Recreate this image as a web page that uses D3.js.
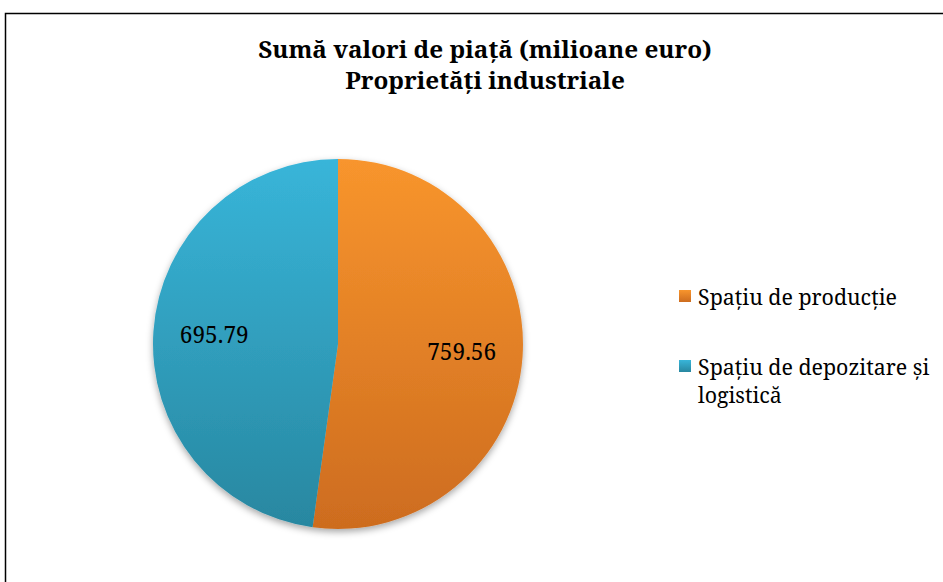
<!DOCTYPE html>
<html><head><meta charset="utf-8">
<script src="https://cdn.jsdelivr.net/npm/d3@7"></script>
<style>body{margin:0;background:#fff;}svg{display:block;}</style>
</head><body>
<svg id="chart" width="943" height="582"></svg>
<script>
const titleLines = ["Sumă valori de piață (milioane euro)", "Proprietăți industriale"];
const categories = ["Spațiu de producție", "Spațiu de depozitare și logistică"];
const legendLines = [["Spațiu de producție"], ["Spațiu de depozitare și", "logistică"]];
const values = [759.56, 695.79];
const valueLabels = ["759.56", "695.79"];
const gradTop = ["#f8952d", "#38b5d9"];
const gradBottom = ["#cd6c1f", "#2887a0"];

const svg = d3.select("#chart");
const W = 943, H = 582;
const font = "Noto Serif";

// fit a font size so that a sample string reaches a target width
function fitSize(str, target, weight) {
  const t = svg.append("text").attr("font-family", font).attr("font-weight", weight || "normal")
    .attr("font-size", 100).text(str);
  const w = t.node().getComputedTextLength();
  t.remove();
  return 100 * target / w;
}
const titleSize = fitSize(titleLines[0], 454, "bold");
const legendSize = fitSize(legendLines[0][0], 199);
const valueSize = fitSize(valueLabels[1], 69);

svg.append("rect").attr("x", 0).attr("y", 0).attr("width", W).attr("height", H).attr("fill", "#fff");
svg.append("rect").attr("x", 5.5).attr("y", 13.5).attr("width", W + 10).attr("height", H + 10)
  .attr("fill", "none").attr("stroke", "#000").attr("stroke-width", 1.5);

const defs = svg.append("defs");
const cx = 338, cy = 344, r = 185;
categories.forEach((c, i) => {
  const g = defs.append("linearGradient").attr("id", "g" + i)
    .attr("gradientUnits", "userSpaceOnUse")
    .attr("x1", 0).attr("y1", -r).attr("x2", 0).attr("y2", r);
  g.append("stop").attr("offset", "0%").attr("stop-color", gradTop[i]);
  g.append("stop").attr("offset", "100%").attr("stop-color", gradBottom[i]);
  const lg = defs.append("linearGradient").attr("id", "lg" + i).attr("x1", 0).attr("y1", 0).attr("x2", 0).attr("y2", 1);
  lg.append("stop").attr("offset", "0%").attr("stop-color", gradTop[i]);
  lg.append("stop").attr("offset", "100%").attr("stop-color", gradBottom[i]);
});
const f = defs.append("filter").attr("id", "shadow").attr("x", "-20%").attr("y", "-20%").attr("width", "140%").attr("height", "140%");
f.append("feDropShadow").attr("dx", 0).attr("dy", 3).attr("stdDeviation", 3.5).attr("flood-color", "#000").attr("flood-opacity", 0.35);

const pie = d3.pie().sort(null).value(d => d);
const arcs = pie(values);
const arc = d3.arc().innerRadius(0).outerRadius(r);
const labelArc = d3.arc().innerRadius(124).outerRadius(124);

const gPie = svg.append("g").attr("transform", `translate(${cx},${cy})`);
const slices = gPie.append("g").attr("filter", "url(#shadow)");
slices.selectAll("path").data(arcs).join("path")
  .attr("d", arc).attr("fill", (d, i) => `url(#g${i})`);

gPie.selectAll("text.val").data(arcs).join("text").attr("class", "val")
  .attr("transform", d => { const c = labelArc.centroid(d); return `translate(${c[0]},${c[1]})`; })
  .attr("text-anchor", "middle").attr("dy", "0.35em")
  .attr("font-family", font).attr("font-size", valueSize).attr("fill", "#000")
  .text((d, i) => valueLabels[i]);

const title = svg.append("text").attr("text-anchor", "middle")
  .attr("font-family", font).attr("font-weight", "bold").attr("font-size", titleSize).attr("fill", "#000");
titleLines.forEach((t, i) => title.append("tspan").attr("x", 485).attr("y", 58 + i * 30.5).text(t));

const leg = svg.append("g");
const legY = [296, 366];
legendLines.forEach((lines, i) => {
  leg.append("rect").attr("x", 679).attr("y", legY[i] - 6).attr("width", 12).attr("height", 12)
    .attr("fill", `url(#lg${i})`);
  const t = leg.append("text").attr("font-family", font).attr("font-size", legendSize).attr("fill", "#000");
  lines.forEach((l, j) => t.append("tspan").attr("x", 698).attr("y", legY[i] + 8.5 + j * 28.5).text(l));
});
</script>
</body></html>
